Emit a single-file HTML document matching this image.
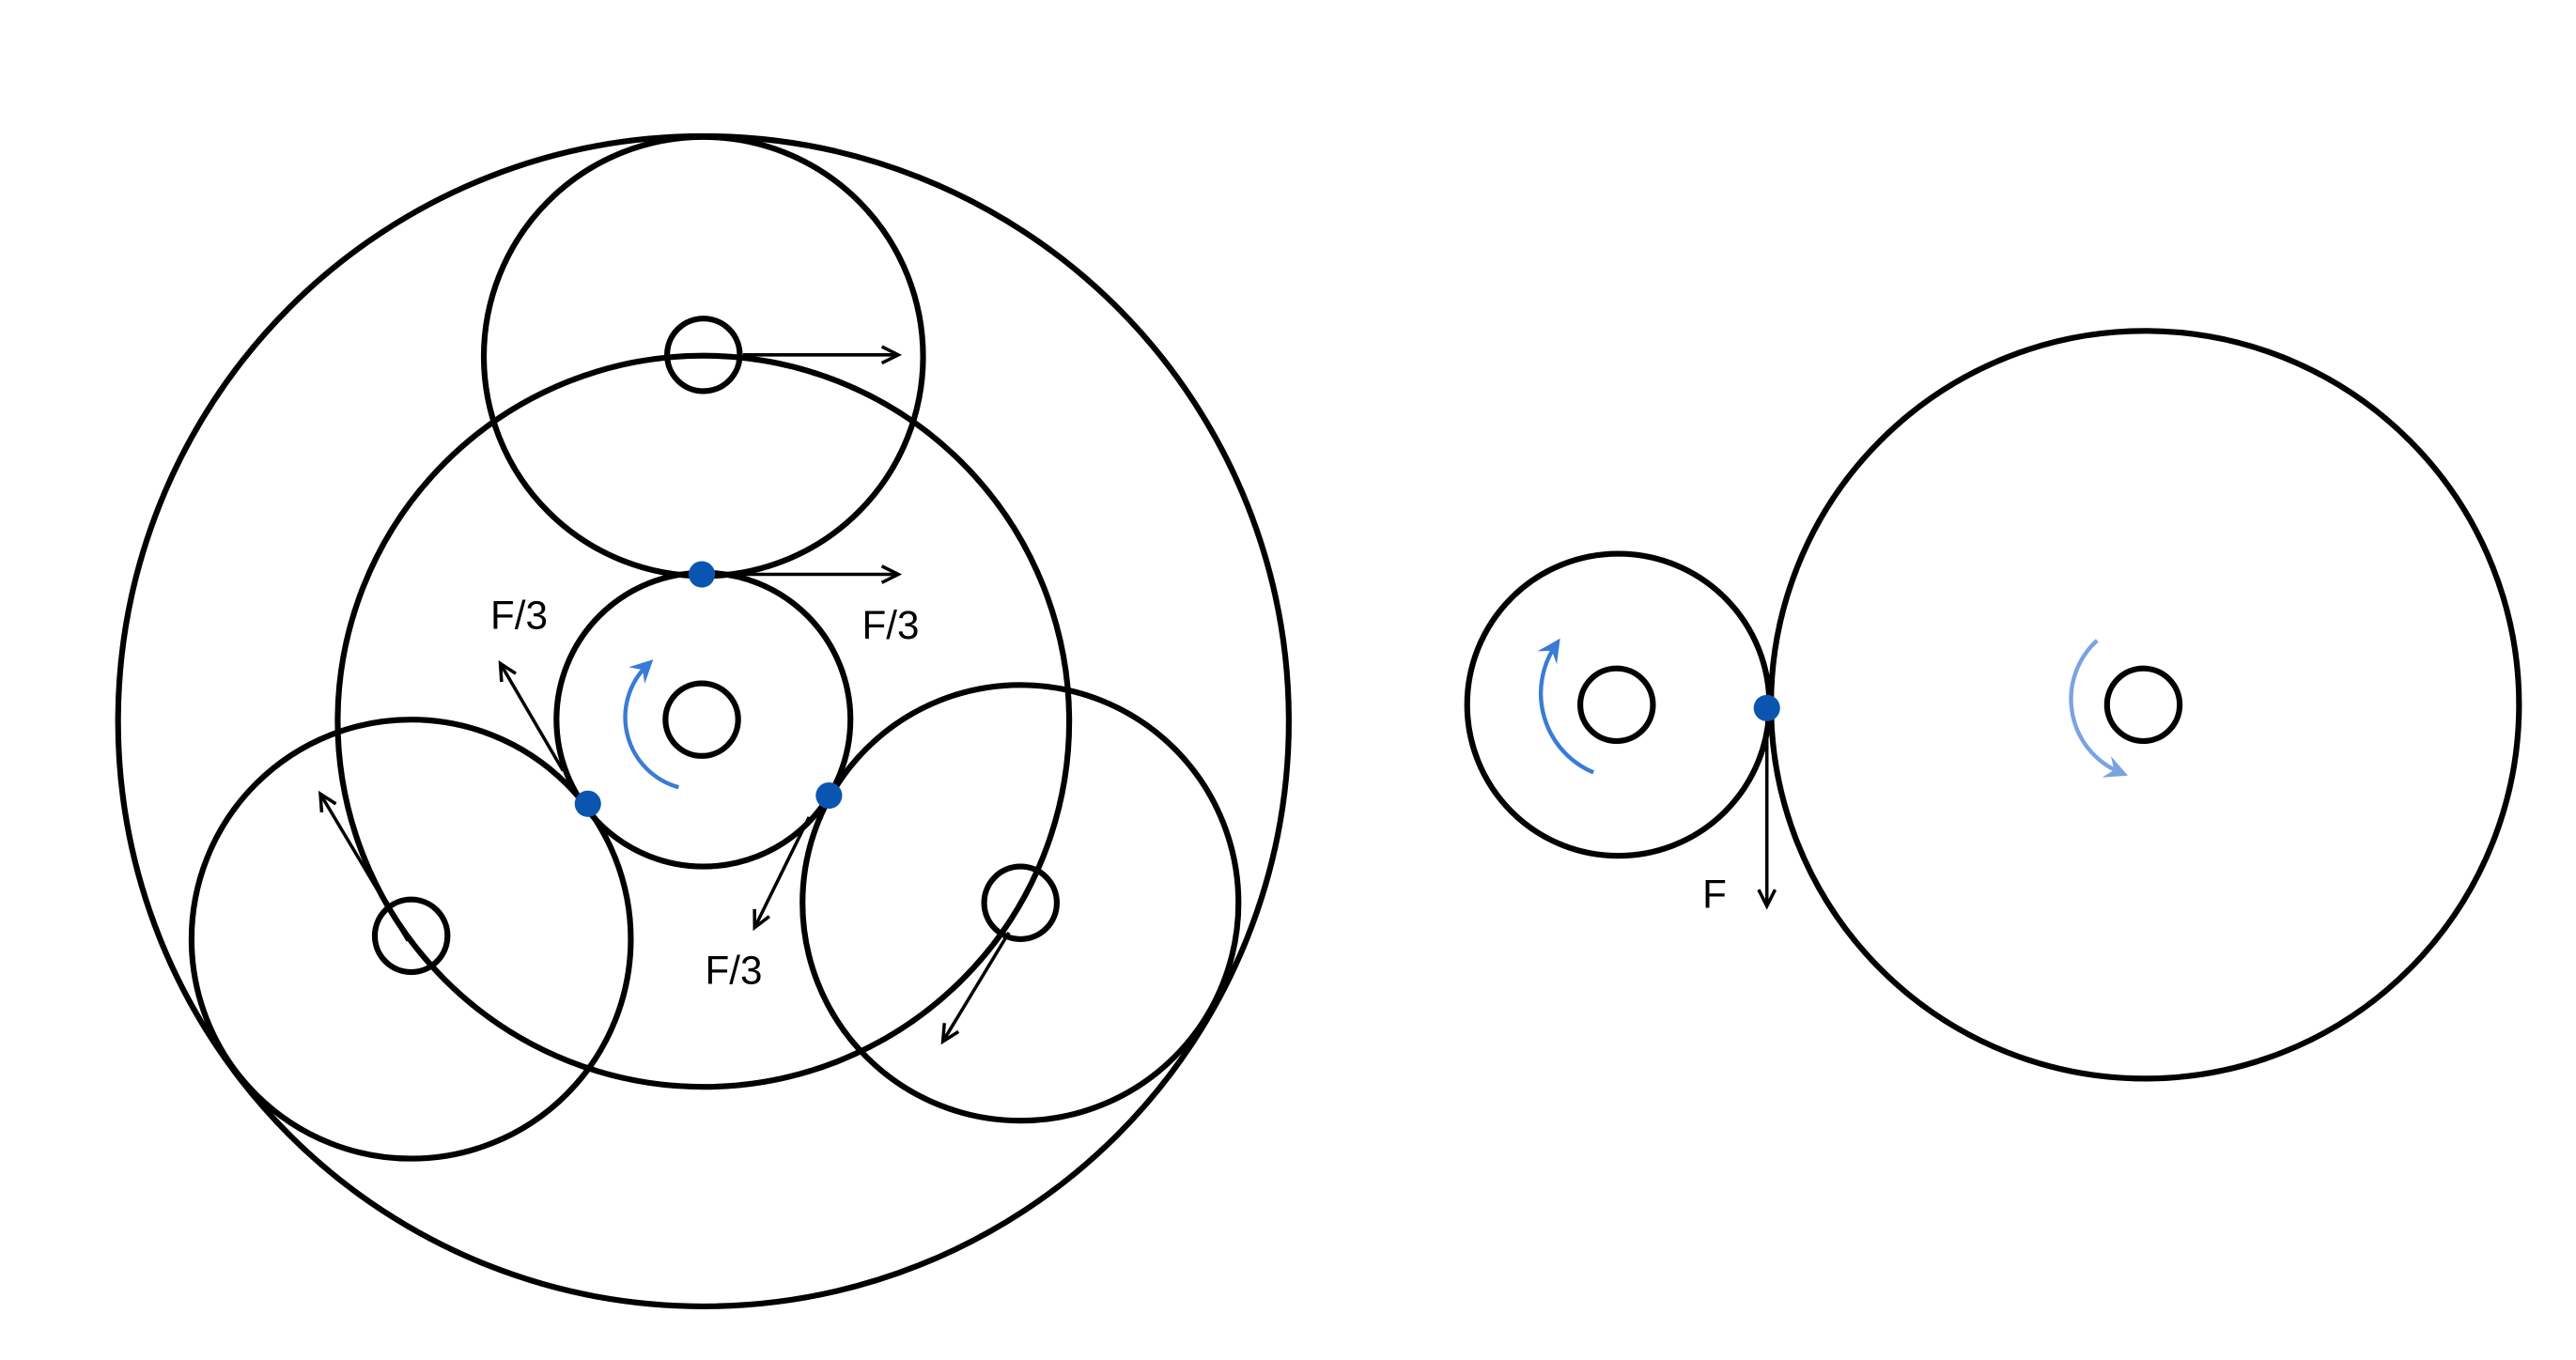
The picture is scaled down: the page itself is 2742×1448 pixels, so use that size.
<!DOCTYPE html>
<html><head><meta charset="utf-8"><style>
html,body{margin:0;padding:0;background:#fff;}
svg{display:block;}
text{font-family:"Liberation Sans",sans-serif;font-size:24px;fill:#000;}
</style></head><body>
<svg width="2742" height="1448" viewBox="0 0 1560 824" preserveAspectRatio="none" xmlns="http://www.w3.org/2000/svg">
<defs>
<marker id="ah" markerWidth="14" markerHeight="14" refX="11" refY="6" orient="auto" markerUnits="userSpaceOnUse">
<path d="M1,1 L11,6 L1,11" fill="none" stroke="#000" stroke-width="2"/></marker>
<marker id="bh" markerWidth="18" markerHeight="18" refX="9" refY="7" orient="auto" markerUnits="userSpaceOnUse">
<path d="M0,0 L14,7 L0,14 L5,7 Z" fill="#3a7bd5"/></marker>
<marker id="lh" markerWidth="18" markerHeight="18" refX="9" refY="7" orient="auto" markerUnits="userSpaceOnUse">
<path d="M0,0 L14,7 L0,14 L5,7 Z" fill="#7ba3e0"/></marker>
</defs>
<g fill="none" stroke="#000" stroke-width="3.5">
<circle cx="426" cy="437" r="354.5"/>
<circle cx="426" cy="437" r="221.5"/>
<circle cx="426" cy="216" r="133"/>
<circle cx="426" cy="436" r="89"/>
<circle cx="249" cy="569" r="133"/>
<circle cx="618" cy="547" r="132"/>
<circle cx="426" cy="215" r="22"/>
<circle cx="425" cy="436" r="22"/>
<circle cx="249" cy="567" r="22"/>
<circle cx="618" cy="547" r="22"/>
<circle cx="980" cy="427" r="91.5"/>
<circle cx="1299" cy="427" r="226.5"/>
<circle cx="979" cy="427" r="22"/>
<circle cx="1298" cy="427" r="22"/>
</g>
<g stroke="#000" stroke-width="2" fill="none" marker-end="url(#ah)">
<line x1="450" y1="215" x2="544" y2="215"/>
<line x1="432" y1="348" x2="544" y2="348"/>
<line x1="341" y1="467" x2="303" y2="402"/>
<line x1="247" y1="570" x2="194" y2="481"/>
<line x1="490" y1="495" x2="457" y2="562"/>
<line x1="611" y1="565" x2="571" y2="631"/>
<line x1="1070" y1="429" x2="1070" y2="549"/>
</g>
<path d="M411,477 A44,44 0 0 1 392,403" fill="none" stroke="#3a7bd5" stroke-width="2.5" marker-end="url(#bh)"/>
<path d="M965,468 A52,52 0 0 1 942,391" fill="none" stroke="#3a7bd5" stroke-width="2.5" marker-end="url(#bh)"/>
<path d="M1270,388 A48,48 0 0 0 1284,468" fill="none" stroke="#7ba3e0" stroke-width="2.5" marker-end="url(#lh)"/>
<g fill="#0a55b0">
<circle cx="425" cy="348" r="8"/>
<circle cx="356" cy="487" r="8"/>
<circle cx="502" cy="482" r="8"/>
<circle cx="1070" cy="429" r="8"/>
</g>
<text x="297" y="381">F/3</text>
<text x="522" y="387">F/3</text>
<text x="427" y="596">F/3</text>
<text x="1031" y="550">F</text>
</svg>
</body></html>
